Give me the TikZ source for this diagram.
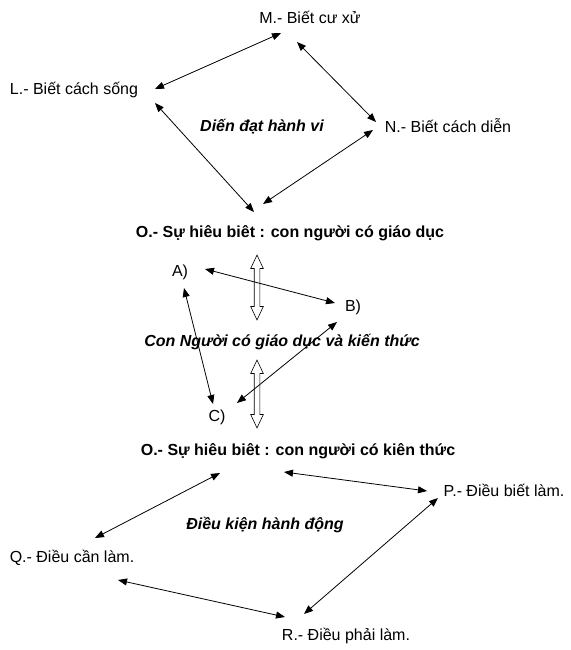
\documentclass[tikz,border=0pt]{standalone}
\usepackage{fontspec}
\setmainfont{Liberation Sans}
\usepackage{tikz}
\usetikzlibrary{arrows.meta,calc,shapes.arrows}

\begin{document}
\begin{tikzpicture}[x=1pt, y=-1pt,
    lbl/.style={inner sep=1pt, font=\fontsize{16}{18}\selectfont},
    bflbl/.style={lbl, font=\fontsize{16}{18}\selectfont\bfseries},
    itlbl/.style={lbl, font=\fontsize{16}{18}\selectfont\bfseries\itshape},
    arr/.style={line width=0.8pt, {Triangle[length=9pt,width=7pt]}-{Triangle[length=9pt,width=7pt]}},
    hollow/.style={double arrow, draw, line width=0.6pt, rotate=90, inner sep=2.5pt,
        minimum width=12pt, double arrow head extend=3.5pt, double arrow tip angle=50}]
    \useasboundingbox (0,0) rectangle (570,650);

    % first group
    \node[lbl] (M) at (310,17) {M.- Biết cư xử};
    \node[lbl] (L) at (74,90) {L.- Biết cách sống};
    \node[lbl] (N) at (448,126) {N.- Biết cách diễn};
    \node[itlbl] (dien) at (262,127) {Diến đạt hành vi};
    \node[bflbl] (O1) at (290,233) {O.- Sự hiêu biêt : con người có giáo dục};

    % middle group
    \node[lbl] (A) at (180,272) {A)};
    \node[lbl] (B) at (353,307) {B)};
    \node[lbl] (C) at (217,417) {C)};
    \node[itlbl] (con) at (282,342) {Con Người có giáo dục và kiến thức};
    \node[hollow, minimum height=65pt] (up1) at (257,287.5) {};
    \node[hollow, minimum height=68pt] (up2) at (257,394) {};

    % last group
    \node[bflbl] (O2) at (298,451) {O.- Sự hiêu biêt : con người có kiên thức};
    \node[lbl] (P) at (504,490) {P.- Điều biết làm.};
    \node[itlbl] (dk) at (265,525) {Điều kiện hành động};
    \node[lbl] (Q) at (72,558) {Q.- Điều cần làm.};
    \node[lbl] (R) at (346,636) {R.- Điều phải làm.};

    % connectors
    \draw[arr] ($(L)+(81,-1)$) -- ($(M)+(-29,16)$);
    \draw[arr] ($(M)+(-13,25)$) -- ($(N)+(-72,-4)$);
    \draw[arr] ($(L)+(81,13)$) -- ($(O1)+(-36,-21)$);
    \draw[arr] ($(N)+(-75,4)$) -- ($(O1)+(-27,-29)$);

    \draw[arr] ($(A)+(25,-3)$) -- ($(B)+(-18,-4)$);
    \draw[arr] ($(A)+(4,16)$) -- ($(C)+(-4,-13)$);
    \draw[arr] ($(B)+(-16,15)$) -- ($(C)+(20,-14)$);

    \draw[arr] ($(O2)+(-78,22)$) -- ($(Q)+(23,-20)$);
    \draw[arr] ($(O2)+(-14,21)$) -- ($(P)+(-77,1)$);
    \draw[arr] ($(P)+(-66,8)$) -- ($(R)+(-42,-22)$);
    \draw[arr] ($(Q)+(46,22)$) -- ($(R)+(-61,-19)$);
\end{tikzpicture}
\end{document}
